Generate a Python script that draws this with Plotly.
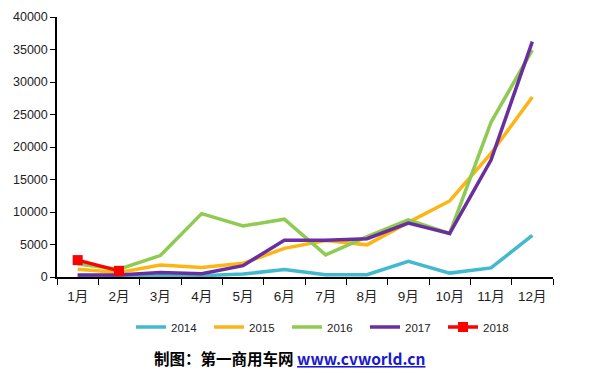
import plotly.graph_objects as go

months = ["1月", "2月", "3月", "4月", "5月", "6月", "7月", "8月", "9月", "10月", "11月", "12月"]
y2014 = [200, 150, 250, 200, 450, 1150, 350, 350, 2400, 600, 1400, 6400]
y2015 = [1200, 700, 1850, 1450, 2100, 4400, 5600, 4950, 8400, 11700, 19000, 27700]
y2016 = [2000, 1200, 3300, 9750, 7850, 8900, 3400, 6200, 8800, 6700, 23800, 34900]
y2017 = [300, 300, 700, 500, 1750, 5650, 5650, 5900, 8300, 6700, 18000, 36200]
y2018 = [2600, 950]

series = [
    ("2014", y2014, "#43B9D0"),
    ("2015", y2015, "#FDB515"),
    ("2016", y2016, "#8FCB52"),
    ("2017", y2017, "#6A2F9E"),
]

fig = go.Figure()
for name, vals, col in series:
    fig.add_trace(go.Scatter(x=months[:len(vals)], y=vals, name=name, mode="lines",
                             line=dict(color=col, width=3.5)))
fig.add_trace(go.Scatter(x=months[:len(y2018)], y=y2018, name="2018", mode="lines+markers",
                         line=dict(color="#FF0000", width=3.5),
                         marker=dict(symbol="square", size=10, color="#FF0000")))

# the page body adds an 8px offset, so margins are shifted accordingly
yaxis_font = dict(family="Liberation Sans, Arial, Noto Sans CJK SC", size=12.5, color="#222")
xaxis_font = dict(family="Liberation Sans, Arial, Noto Sans CJK SC", size=13.5, color="#222")
fig.update_layout(
    width=594, height=376,
    margin=dict(l=49, r=49, t=9, b=107, autoexpand=False),
    plot_bgcolor="white", paper_bgcolor="white",
    showlegend=True,
    legend=dict(orientation="h", xref="container", yref="container",
                x=318 / 594, xanchor="center", y=1 - 319 / 376, yanchor="middle",
                font=dict(family="Liberation Sans, Arial", size=11.5, color="#222"),
                entrywidth=33, entrywidthmode="pixels", itemwidth=30),
    xaxis=dict(type="category", categoryorder="array", categoryarray=months,
               range=[-0.5, 11.5], tickson="boundaries", ticks="outside", ticklen=6,
               tickcolor="black", showline=True, linecolor="black", linewidth=1.5,
               showgrid=False, zeroline=False, tickfont=xaxis_font, automargin=False,
               ticklabelstandoff=6),
    yaxis=dict(range=[0, 40000], dtick=5000, ticks="outside", ticklen=5, tickcolor="black",
               showline=True, linecolor="black", linewidth=1.5, showgrid=False,
               zeroline=False, tickfont=yaxis_font, tickformat="d", automargin=False),
    annotations=[dict(
        xref="paper", yref="paper", x=0.468, y=-0.3115, xanchor="center", yanchor="middle",
        showarrow=False,
        text="<b>制图：第一商用车网 <span style='color:#1a1acc'><u>www.cvworld.cn</u></span></b>",
        font=dict(family="Noto Sans CJK SC, Liberation Sans", size=15.5, color="black"))],
)

fig.write_html("out.html")
